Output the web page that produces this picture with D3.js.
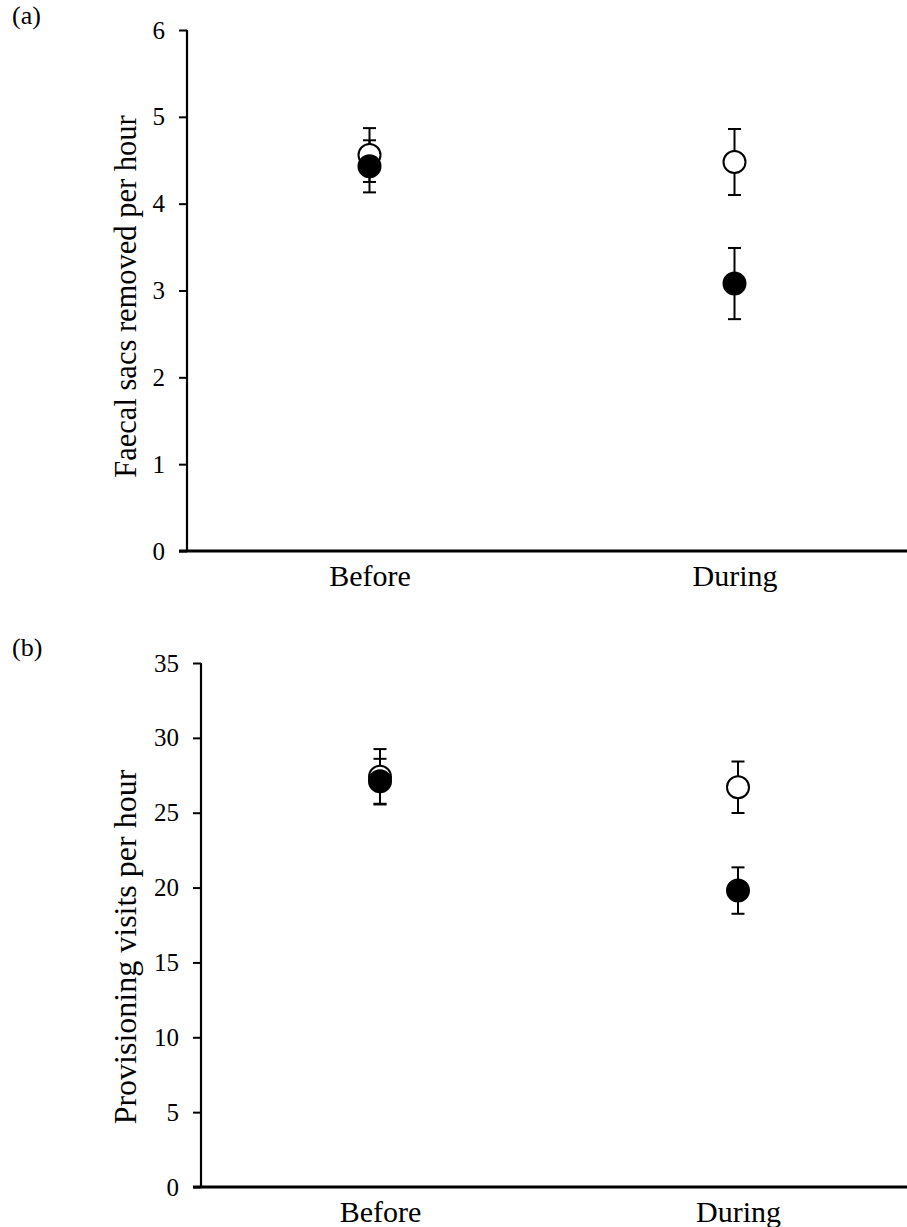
<!DOCTYPE html>
<html>
<head>
<meta charset="utf-8">
<script src="https://cdn.jsdelivr.net/npm/d3@7"></script>
<style>
  html, body { margin: 0; padding: 0; background: #fff; }
  svg { display: block; font-family: "Liberation Serif", "Times New Roman", serif; }
  svg text { font-family: "Liberation Serif", "Times New Roman", serif; fill: #000; }
</style>
</head>
<body>
<svg id="chart" width="907" height="1227"></svg>
<script>
// ---- data ----
const categories = ["Before", "During"];

// Panel (a): faecal sacs removed per hour
const faecalOpen = [4.56, 4.48];
const faecalOpenErr = [0.31, 0.38];
const faecalFilled = [4.43, 3.08];
const faecalFilledErr = [0.30, 0.41];
const faecalTicks = [0, 1, 2, 3, 4, 5, 6];

// Panel (b): provisioning visits per hour
const provOpen = [27.4, 26.7];
const provOpenErr = [1.85, 1.72];
const provFilled = [27.1, 19.8];
const provFilledErr = [1.5, 1.55];
const provTicks = [0, 5, 10, 15, 20, 25, 30, 35];

const yTitles = ["Faecal sacs removed per hour", "Provisioning visits per hour"];
const panelLabels = ["(a)", "(b)"];

// ---- drawing ----
const svg = d3.select("#chart");

function panel(cfg) {
  const g = svg.append("g");
  const x = d3.scalePoint().domain(categories).range([cfg.left, cfg.right]).padding(0.5);
  const y = d3.scaleLinear().domain([0, cfg.max]).range([cfg.bottom, cfg.top]);

  // y axis
  const yAxis = d3.axisLeft(y).tickValues(cfg.ticks).tickFormat(d3.format("d"))
    .tickSize(8).tickSizeOuter(0).tickPadding(14);
  const ya = g.append("g").attr("transform", `translate(${cfg.left},0)`).call(yAxis);
  ya.attr("font-family", null);
  ya.select(".domain").attr("stroke", "#000").attr("stroke-width", 2.2)
    .attr("d", `M0,${cfg.top}V${cfg.bottom}`);
  ya.selectAll(".tick line").attr("stroke", "#000").attr("stroke-width", 2);
  ya.selectAll(".tick text").attr("font-size", 25).attr("fill", "#000");

  // x axis
  const xAxis = d3.axisBottom(x).tickSize(0).tickPadding(14);
  const xa = g.append("g").attr("transform", `translate(0,${cfg.bottom})`).call(xAxis);
  xa.attr("font-family", null);
  xa.select(".domain").attr("stroke", "#000").attr("stroke-width", 3)
    .attr("d", `M${cfg.left - 8},0H${cfg.right}`);
  xa.selectAll(".tick text").attr("font-size", 30).attr("fill", "#000").attr("dy", "0.71em");

  // y title
  g.append("text")
    .attr("transform", `translate(${cfg.titleX},${(cfg.top + cfg.bottom) / 2 + cfg.titleDy}) rotate(-90)`)
    .attr("text-anchor", "middle")
    .attr("font-size", cfg.titleSize)
    .text(cfg.title);

  // panel label
  g.append("text").attr("x", cfg.labelX).attr("y", cfg.labelY).attr("font-size", 26).text(cfg.label);

  const capW = 6.5;
  function errorBars(vals, errs) {
    const eg = g.append("g").attr("stroke", "#000").attr("stroke-width", 2).attr("fill", "none");
    vals.forEach((v, i) => {
      const cx = x(categories[i]);
      eg.append("line").attr("x1", cx).attr("x2", cx).attr("y1", y(v - errs[i])).attr("y2", y(v + errs[i]));
      eg.append("line").attr("x1", cx - capW).attr("x2", cx + capW).attr("y1", y(v + errs[i])).attr("y2", y(v + errs[i]));
      eg.append("line").attr("x1", cx - capW).attr("x2", cx + capW).attr("y1", y(v - errs[i])).attr("y2", y(v - errs[i]));
    });
  }
  errorBars(cfg.open, cfg.openErr);
  errorBars(cfg.filled, cfg.filledErr);

  g.selectAll("circle.open").data(cfg.open).enter().append("circle")
    .attr("class", "open")
    .attr("cx", (d, i) => x(categories[i])).attr("cy", d => y(d)).attr("r", 11)
    .attr("fill", "#fff").attr("stroke", "#000").attr("stroke-width", 2);
  g.selectAll("circle.filled").data(cfg.filled).enter().append("circle")
    .attr("class", "filled")
    .attr("cx", (d, i) => x(categories[i])).attr("cy", d => y(d)).attr("r", 11)
    .attr("fill", "#000").attr("stroke", "#000").attr("stroke-width", 2);
}

panel({
  left: 187, right: 917, top: 30, bottom: 551, max: 6, ticks: faecalTicks,
  open: faecalOpen, openErr: faecalOpenErr, filled: faecalFilled, filledErr: faecalFilledErr,
  title: yTitles[0], titleX: 136, titleDy: 6, titleSize: 30.5,
  label: panelLabels[0], labelX: 12, labelY: 24
});
panel({
  left: 201, right: 917, top: 663, bottom: 1187, max: 35, ticks: provTicks,
  open: provOpen, openErr: provOpenErr, filled: provFilled, filledErr: provFilledErr,
  title: yTitles[1], titleX: 136, titleDy: 22, titleSize: 32,
  label: panelLabels[1], labelX: 12, labelY: 656
});
</script>
</body>
</html>
